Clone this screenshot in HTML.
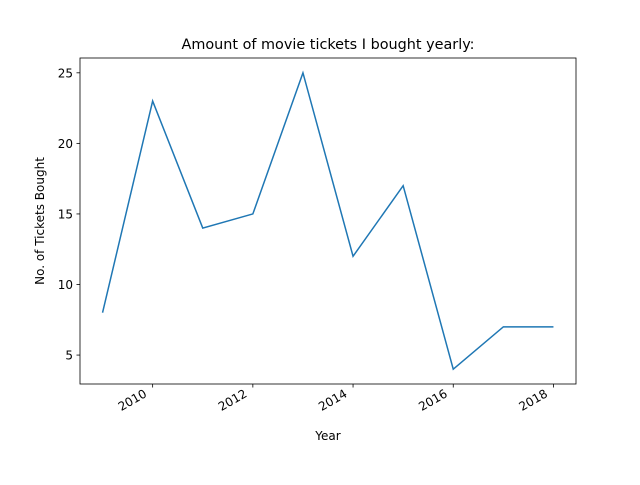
<!DOCTYPE html>
<html><head><meta charset="utf-8"><style>
body{margin:0;background:#fff;}
svg text{font-family:"DejaVu Sans","Liberation Sans",sans-serif;fill:#000;}
</style></head><body>
<svg id="chart" width="640" height="480">
<rect width="640" height="480" fill="#fff"/>
<text x="328" y="49" text-anchor="middle" font-size="14.4">Amount of movie tickets I bought yearly:</text>
<g id="axes"></g>
<text x="328" y="440" text-anchor="middle" font-size="12">Year</text>
<text transform="translate(44,221) rotate(-90)" text-anchor="middle" font-size="12">No. of Tickets Bought</text>
</svg>
<script>
const years=[2009,2010,2011,2012,2013,2014,2015,2016,2017,2018];
const tickets=[8,23,14,15,25,12,17,4,7,7];
const xTicks=[2010,2012,2014,2016,2018];
const yTicks=[5,10,15,20,25];
const L=80,R=576,T=58,B=384;
const xmin=2009-0.45,xmax=2018+0.45,ymin=2.95,ymax=26.05;
const X=v=>L+(v-xmin)/(xmax-xmin)*(R-L);
const Y=v=>B-(v-ymin)/(ymax-ymin)*(B-T);
const ns="http://www.w3.org/2000/svg";
const g=document.getElementById('axes');
function mk(t,a){const e=document.createElementNS(ns,t);for(const k in a)e.setAttribute(k,a[k]);g.appendChild(e);return e;}
const pl=mk('polyline',{points:years.map((y,i)=>X(y)+','+Y(tickets[i])).join(' '),fill:'none',stroke:'#1f77b4','stroke-width':1.5});


const fr=mk('rect',{x:L,y:T,width:R-L,height:B-T,fill:'none',stroke:'#000','stroke-width':0.8});


xTicks.forEach(v=>{const x=X(v);
 const tk=mk('line',{x1:x,x2:x,y1:B,y2:B+3.5,stroke:'#000','stroke-width':0.8});
 
 
 const t=mk('text',{x:0,y:0,'font-size':12,'text-anchor':'end',transform:`translate(${x-5},${B+12}) rotate(-30)`});
 t.textContent=v;
 
 
});
yTicks.forEach(v=>{const y=Y(v);
 const tk=mk('line',{x1:L-3.5,x2:L,y1:y,y2:y,stroke:'#000','stroke-width':0.8});
 
 
 const t=mk('text',{x:L-7,y:y+4.5,'font-size':12,'text-anchor':'end'});
 t.textContent=v;
 
 
});
</script>
</body></html>
